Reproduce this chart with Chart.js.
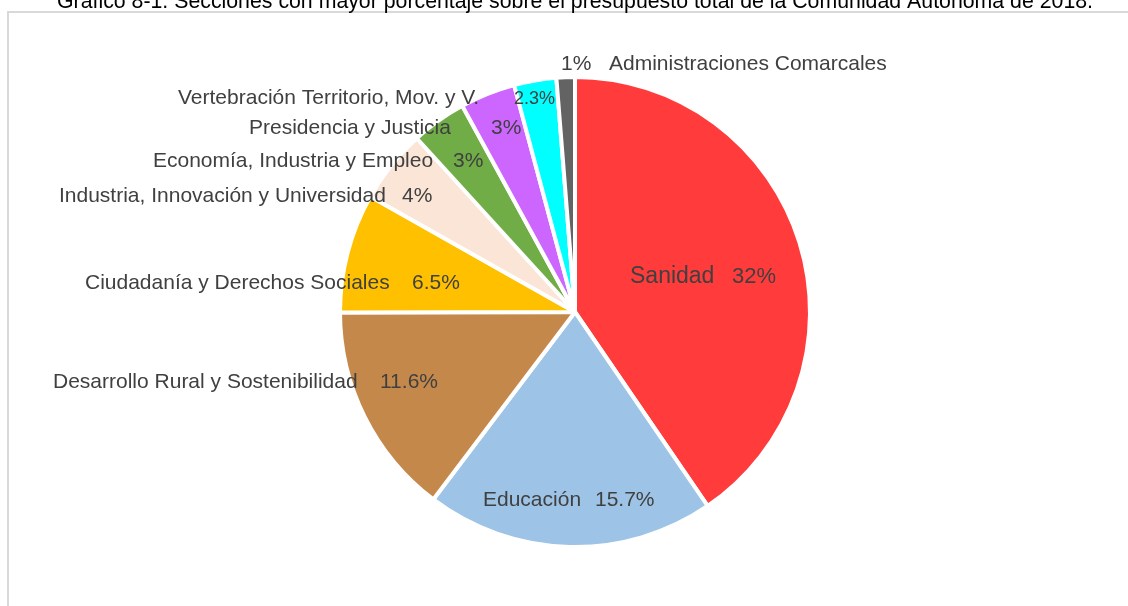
<!DOCTYPE html>
<html>
<head>
<meta charset="utf-8">
<script src="https://cdn.jsdelivr.net/npm/chart.js@4.4.1/dist/chart.umd.min.js"></script>
<style>
html,body{margin:0;padding:0;background:#ffffff;}
#wrap{position:relative;width:1128px;height:606px;overflow:hidden;}
</style>
</head>
<body>
<div id="wrap"><canvas id="c" width="1128" height="606"></canvas></div>
<script>
// ---- data ----
const categories = [
  "Sanidad",
  "Educación",
  "Desarrollo Rural y Sostenibilidad",
  "Ciudadanía y Derechos Sociales",
  "Industria, Innovación y Universidad",
  "Economía, Industria y Empleo",
  "Presidencia y Justicia",
  "Vertebración Territorio, Mov. y V.",
  "Administraciones Comarcales"
];
const values = [32, 15.7, 11.6, 6.5, 4, 3, 3, 2.3, 1];
const colors = ["#FF3B3B", "#9DC3E6", "#C5884B", "#FFC000", "#FBE5D6", "#70AD47", "#CC66FF", "#00FFFF", "#636363"];
const titleText = "Gráfico 8-1. Secciones con mayor porcentaje sobre el presupuesto total de la Comunidad Autónoma de 2018.";

// ---- label layout (offsets from pie centre: name left x, pct left x, baseline y, font px) ----
const labelLayout = [
  {nx: 55,   px: 157,  by: -29, fs: 23, pfs: 22},
  {nx: -92,  px: 20,   by: 194, fs: 21, pfs: 21},
  {nx: -522, px: -195, by: 76,  fs: 21, pfs: 21},
  {nx: -490, px: -163, by: -23, fs: 21, pfs: 21},
  {nx: -516, px: -173, by: -110,fs: 21, pfs: 21},
  {nx: -422, px: -122, by: -145,fs: 21, pfs: 21},
  {nx: -326, px: -84,  by: -178,fs: 21, pfs: 21},
  {nx: -397, px: -61,  by: -208,fs: 21, pfs: 18},
  {nx: 34,   px: -14,  by: -242,fs: 21, pfs: 21}
];

const decoPlugin = {
  id: 'deco',
  beforeDraw(chart) {
    const ctx = chart.ctx;
    ctx.save();
    ctx.fillStyle = '#ffffff';
    ctx.fillRect(0, 0, chart.width, chart.height);
    ctx.strokeStyle = '#D9D9D9';
    ctx.lineWidth = 2;
    ctx.strokeRect(8, 12, 1200, 700);
    // title
    ctx.fillStyle = '#000000';
    ctx.font = '22px "Liberation Sans", Arial, sans-serif';
    ctx.textBaseline = 'alphabetic';
    ctx.textAlign = 'left';
    const w = ctx.measureText(titleText).width;
    const sx = 1036 / w;
    ctx.translate(57, 8);
    ctx.scale(sx, 1);
    ctx.fillText(titleText, 0, 0);
    ctx.restore();
  },
  afterDatasetsDraw(chart) {
    const ctx = chart.ctx;
    const arcs = chart.getDatasetMeta(0).data;
    ctx.save();
    ctx.fillStyle = '#404040';
    ctx.textBaseline = 'alphabetic';
    ctx.textAlign = 'left';
    arcs.forEach((arc, i) => {
      const L = labelLayout[i];
      const cx = arc.x, cy = arc.y;
      const pct = values[i] + '%';
      ctx.font = L.fs + 'px "Liberation Sans", Arial, sans-serif';
      ctx.fillText(categories[i], cx + L.nx, cy + L.by);
      ctx.font = L.pfs + 'px "Liberation Sans", Arial, sans-serif';
      ctx.fillText(pct, cx + L.px, cy + L.by);
    });
    ctx.restore();
  }
};

new Chart(document.getElementById('c'), {
  type: 'pie',
  data: {
    labels: categories,
    datasets: [{
      data: values,
      backgroundColor: colors,
      borderColor: '#ffffff',
      borderWidth: 4,
      radius: 235,
      hoverOffset: 0
    }]
  },
  options: {
    responsive: false,
    animation: false,
    devicePixelRatio: 1,
    layout: {padding: {left: 22, right: 0, top: 18, bottom: 0}},
    plugins: {
      legend: {display: false},
      title: {display: false},
      tooltip: {enabled: false}
    },
    events: []
  },
  plugins: [decoPlugin]
});
</script>
</body>
</html>
